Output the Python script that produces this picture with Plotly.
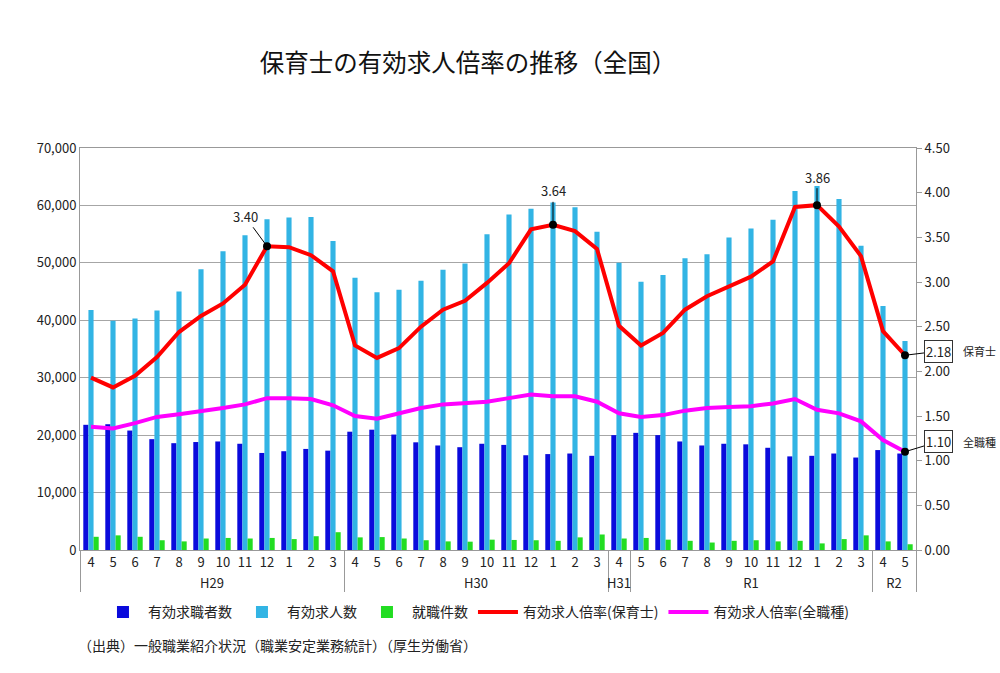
import plotly.graph_objects as go

# ---- data ----
years = (["H29"] * 12) + (["H30"] * 12) + ["H31"] + (["R1"] * 11) + (["R2"] * 2)
months = ["4", "5", "6", "7", "8", "9", "10", "11", "12", "1", "2", "3",
          "4", "5", "6", "7", "8", "9", "10", "11", "12", "1", "2", "3",
          "4",
          "5", "6", "7", "8", "9", "10", "11", "12", "1", "2", "3",
          "4", "5"]

job_seekers = [21800, 21900, 20800, 19300, 18600, 18800, 18900, 18500, 16900, 17200, 17600, 17300,
               20600, 20950, 20100, 18750, 18200, 17900, 18500, 18300, 16500, 16700, 16800, 16400,
               20000,
               20400, 20000, 18900, 18200, 18500, 18400, 17800, 16300, 16400, 16800, 16100,
               17400, 16800]

job_openings = [41800, 39900, 40300, 41700, 45000, 48900, 52000, 54800, 57600, 57900, 58000, 53800,
                47400, 44900, 45300, 46900, 48800, 49900, 55000, 58400, 59400, 60500, 59700, 55400,
                50000,
                46700, 47900, 50800, 51500, 54400, 56000, 57500, 62500, 63400, 61100, 53000,
                42500, 36400]

placements = [2300, 2550, 2300, 1700, 1500, 2000, 2100, 2000, 2100, 1900, 2400, 3100,
              2200, 2250, 2000, 1700, 1500, 1450, 1800, 1750, 1700, 1600, 2200, 2700,
              2000,
              2100, 1800, 1600, 1300, 1600, 1700, 1500, 1600, 1150, 1900, 2550,
              1500, 1000]

ratio_hoikushi = [1.93, 1.82, 1.95, 2.16, 2.44, 2.62, 2.76, 2.97, 3.40, 3.39, 3.30, 3.12,
                  2.29, 2.15, 2.26, 2.50, 2.69, 2.79, 2.99, 3.21, 3.59, 3.64, 3.57, 3.37,
                  2.51,
                  2.29, 2.43, 2.69, 2.84, 2.95, 3.06, 3.23, 3.84, 3.86, 3.62, 3.29,
                  2.45, 2.18]

ratio_all = [1.38, 1.36, 1.42, 1.49, 1.52, 1.55, 1.59, 1.63, 1.70, 1.70, 1.69, 1.62,
             1.50, 1.47, 1.53, 1.59, 1.63, 1.64, 1.66, 1.70, 1.74, 1.72, 1.72, 1.66,
             1.53,
             1.49, 1.51, 1.56, 1.59, 1.60, 1.61, 1.64, 1.69, 1.57, 1.53, 1.44,
             1.23, 1.10]

peak_idx = [8, 21, 33]      # highlighted peaks of 保育士 ratio
last_idx = len(months) - 1

FONT = "Noto Sans CJK JP"
x = [years, months]

fig = go.Figure()
fig.add_trace(go.Bar(x=x, y=job_seekers, name="有効求職者数",
                     marker=dict(color="#0A0ADC", line=dict(width=0))))
fig.add_trace(go.Bar(x=x, y=job_openings, name="有効求人数",
                     marker=dict(color="#32B4E4", line=dict(width=0))))
fig.add_trace(go.Bar(x=x, y=placements, name="就職件数",
                     marker=dict(color="#22DD22", line=dict(width=0))))
fig.add_trace(go.Scatter(x=x, y=ratio_hoikushi, name="有効求人倍率(保育士)", yaxis="y2",
                         mode="lines", line=dict(color="#FF0000", width=4)))
fig.add_trace(go.Scatter(x=x, y=ratio_all, name="有効求人倍率(全職種)", yaxis="y2",
                         mode="lines", line=dict(color="#FF00FF", width=4)))

# black dots on highlighted points
dot_idx = peak_idx + [last_idx]
fig.add_trace(go.Scatter(x=[[years[i] for i in dot_idx], [months[i] for i in dot_idx]],
                         y=[ratio_hoikushi[i] for i in dot_idx],
                         yaxis="y2", mode="markers", showlegend=False,
                         marker=dict(color="black", size=8)))
fig.add_trace(go.Scatter(x=[[years[last_idx]], [months[last_idx]]],
                         y=[ratio_all[last_idx]],
                         yaxis="y2", mode="markers", showlegend=False,
                         marker=dict(color="black", size=8)))

annotations = []
offsets = {8: (-22, -30), 21: (0, -34), 33: (0, -28)}
for i in peak_idx:
    ax, ay = offsets[i]
    annotations.append(dict(x=i, y=ratio_hoikushi[i], xref="x", yref="y2",
                            text=f"{ratio_hoikushi[i]:.2f}", showarrow=True,
                            arrowhead=0, arrowwidth=1, arrowcolor="black",
                            ax=ax, ay=ay, font=dict(family=FONT, size=13, color="#222")))
for vals, label, ay in [(ratio_hoikushi, "保育士", -4), (ratio_all, "全職種", -10)]:
    annotations.append(dict(x=last_idx, y=vals[last_idx], xref="x", yref="y2",
                            text=f"{vals[last_idx]:.2f}", showarrow=True,
                            arrowhead=0, arrowwidth=1, arrowcolor="black",
                            ax=33, ay=ay, bordercolor="#333", borderwidth=1,
                            borderpad=1, bgcolor="white",
                            font=dict(family=FONT, size=13, color="#222")))
    annotations.append(dict(x=last_idx, y=vals[last_idx], xref="x", yref="y2",
                            text=label, showarrow=False, xanchor="left", xshift=56, yshift=-ay,
                            font=dict(family=FONT, size=11, color="#222")))
annotations.append(dict(x=-0.005, y=-0.237, xref="paper", yref="paper",
                        text="（出典）一般職業紹介状況（職業安定業務統計）（厚生労働省）",
                        showarrow=False, xanchor="left", yanchor="middle",
                        font=dict(family=FONT, size=14, color="#222")))

fig.update_layout(
    width=1000, height=673,
    margin=dict(l=80, r=84, t=148, b=123),
    paper_bgcolor="white", plot_bgcolor="white",
    font=dict(family=FONT, size=13, color="#222"),
    title=dict(text="保育士の有効求人倍率の推移（全国）", x=0.468, xanchor="center",
               y=0.906, yanchor="middle", font=dict(family=FONT, size=24.5, color="#111")),
    barmode="group", bargap=0.3, bargroupgap=0,
    xaxis=dict(type="multicategory", range=[-0.5, len(months) - 0.5],
               showline=True, linecolor="#999", linewidth=1,
               mirror=True, showgrid=False, ticks="", showdividers=True,
               dividercolor="#999", dividerwidth=1, tickangle=0,
               tickfont=dict(family=FONT, size=13, color="#222")),
    yaxis=dict(range=[0, 70000], dtick=10000, tickformat=",", showgrid=True,
               gridcolor="#A6A6A6", gridwidth=1, showline=True, linecolor="#999",
               mirror=True, zeroline=False, ticks="",
               tickfont=dict(family=FONT, size=13, color="#222")),
    yaxis2=dict(range=[0, 4.5], dtick=0.5, tickformat=".2f", overlaying="y", side="right",
                showgrid=False, zeroline=False, showline=True, linecolor="#999",
                ticks="outside", ticklen=5, tickcolor="#999",
                tickfont=dict(family=FONT, size=13, color="#222")),
    legend=dict(orientation="h", x=0.0215, y=-0.155, xanchor="left", yanchor="middle",
                font=dict(family=FONT, size=14, color="#222"), itemwidth=40,
                traceorder="normal"),
    annotations=annotations,
)

fig.write_html("out.html", config={"displayModeBar": False},
               post_script="document.body.style.margin='0';")
